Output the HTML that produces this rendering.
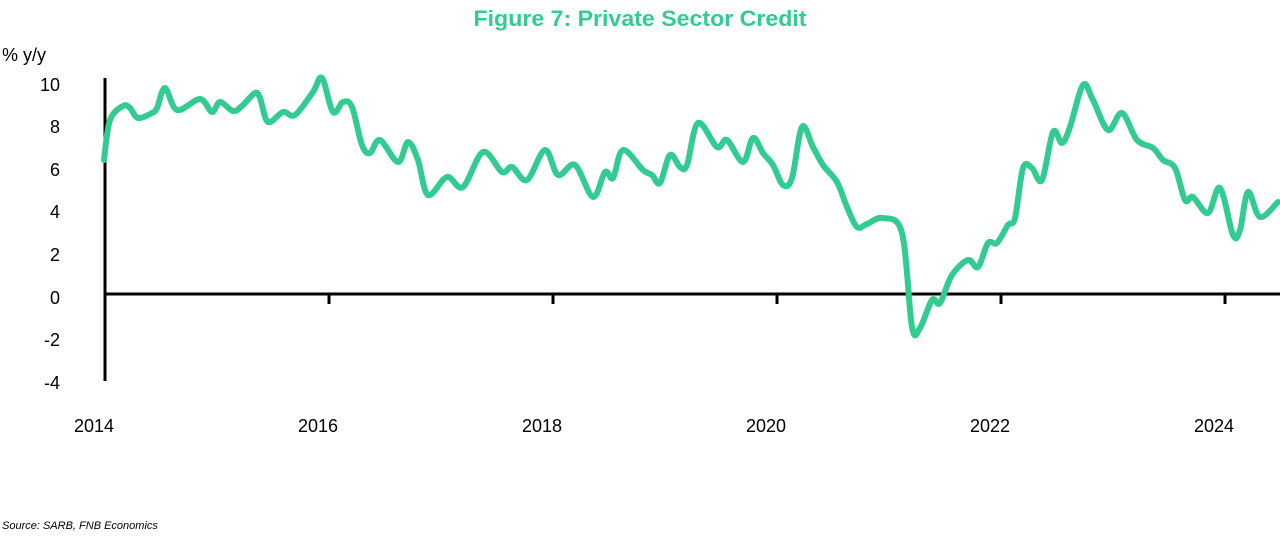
<!DOCTYPE html>
<html><head><meta charset="utf-8"><style>
html,body{margin:0;padding:0;background:#fff;width:1280px;height:536px;overflow:hidden}
svg text{font-family:"Liberation Sans",sans-serif}
</style></head><body>
<svg width="1280" height="536" viewBox="0 0 1280 536">
<text x="640" y="26" text-anchor="middle" font-size="22" font-weight="bold" fill="#33cc90" textLength="333" lengthAdjust="spacingAndGlyphs">Figure 7: Private Sector Credit</text>
<text x="2" y="61" font-size="18" fill="#000">% y/y</text>
<g font-size="18" fill="#000" text-anchor="end">
<text x="60" y="91">10</text><text x="60" y="133">8</text><text x="60" y="176">6</text><text x="60" y="218">4</text><text x="60" y="261">2</text><text x="60" y="304">0</text><text x="60" y="346">-2</text><text x="60" y="389">-4</text>
</g>
<g font-size="18" fill="#000" text-anchor="middle">
<text x="94" y="432">2014</text><text x="318" y="432">2016</text><text x="542" y="432">2018</text><text x="766" y="432">2020</text><text x="990" y="432">2022</text><text x="1214" y="432">2024</text>
</g>
<line x1="105" y1="78" x2="105" y2="381" stroke="#000" stroke-width="3"/>
<line x1="104" y1="294" x2="1280" y2="294" stroke="#000" stroke-width="3"/>
<g stroke="#000" stroke-width="3">
<line x1="329" y1="294" x2="329" y2="304"/><line x1="553" y1="294" x2="553" y2="304"/><line x1="777" y1="294" x2="777" y2="304"/><line x1="1001" y1="294" x2="1001" y2="304"/><line x1="1225" y1="294" x2="1225" y2="304"/>
</g>
<path id="ln" fill="none" stroke="#33cc90" stroke-width="6" stroke-linejoin="round" stroke-linecap="round" d=""/>
<text x="2" y="529" font-size="11" font-style="italic" fill="#000">Source: SARB, FNB Economics</text>
</svg>
<script>
var s="104,160 110,120 123,106 130,108 138,118 152,113 157,108 165,88 177,110 200,99 212,112 220,102 233,111 242,106 255,93 260,98 268,122 283,112 295,115 313,92 322,78 333,112 343,102 352,107 362,145 370,153 380,140 398,162 408,142 418,160 428,195 447,177 463,187 483,152 502,172 512,167 527,180 545,150 558,175 575,165 593,197 605,172 613,178 623,150 643,170 652,175 660,183 670,155 680,167 687,165 698,123 717,147 727,140 743,162 753,138 763,153 773,165 783,185 792,178 802,127 813,147 823,165 837,182 847,207 857,227 867,224 883,218 902,233 912,327 920,328 932,300 940,303 952,275 968,260 978,267 988,243 997,243 1008,225 1015,218 1023,168 1032,168 1042,180 1053,132 1062,143 1070,127 1083,85 1093,100 1108,130 1122,113 1137,140 1153,148 1163,160 1175,168 1185,200 1193,197 1208,213 1220,188 1233,235 1240,230 1248,192 1260,217 1278,202";
var p=s.split(" ").map(function(a){return a.split(",").map(Number)});
var d="M"+p[0][0]+","+p[0][1];
for(var i=0;i<p.length-1;i++){var p0=p[i-1]||p[i],p1=p[i],p2=p[i+1],p3=p[i+2]||p2;
var c1x=p1[0]+(p2[0]-p0[0])/6,c1y=p1[1]+(p2[1]-p0[1])/6,c2x=p2[0]-(p3[0]-p1[0])/6,c2y=p2[1]-(p3[1]-p1[1])/6;
d+=" C"+c1x.toFixed(1)+","+c1y.toFixed(1)+" "+c2x.toFixed(1)+","+c2y.toFixed(1)+" "+p2[0]+","+p2[1];}
document.getElementById("ln").setAttribute("d",d);
</script>
</body></html>
